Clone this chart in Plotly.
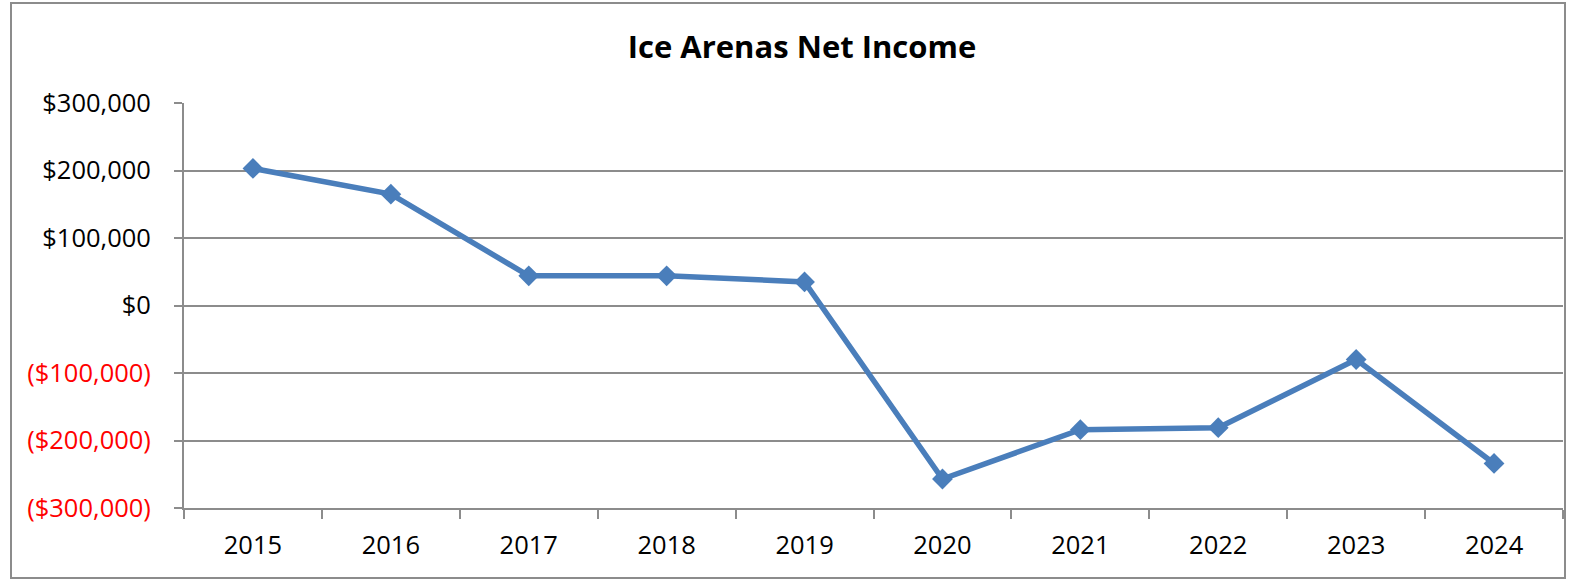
import plotly.graph_objects as go

years = ["2015", "2016", "2017", "2018", "2019", "2020", "2021", "2022", "2023", "2024"]
net_income = [203000, 165000, 44000, 44000, 35000, -257000, -184000, -181000, -80000, -234000]
tick_vals = [300000, 200000, 100000, 0, -100000, -200000, -300000]


def fmt(v):
    if v < 0:
        return "<span style='color:#ff0000'>(${:,.0f})</span>".format(-v)
    return "${:,.0f}".format(v)


tick_text = [fmt(v) for v in tick_vals]

W, H = 1570, 580
L, R, T, B = 184, 7, 103, 72
pw, ph = W - L - R, H - T - B


def px_x(x):
    return (x - L) / pw


def px_y(y):
    return (H - B - y) / ph


FONT = "Open Sans"
TICK_SIZE = 25.5

fig = go.Figure()
fig.add_trace(go.Scatter(
    x=years, y=net_income, mode="lines+markers",
    line=dict(color="#4a7ebb", width=5.5),
    marker=dict(symbol="diamond", size=16, color="#4a7ebb"),
    showlegend=False,
))

fig.update_layout(
    width=W, height=H,
    margin=dict(l=L, r=R, t=T, b=B, autoexpand=False),
    paper_bgcolor="white", plot_bgcolor="white",
    font=dict(family=FONT, size=TICK_SIZE, color="#000000"),
    title=dict(text="<b>Ice Arenas Net Income</b>", x=px_x(802), xref="paper", xanchor="center",
               y=1 - 47 / H, yanchor="middle", font=dict(family=FONT, size=31, color="#000000")),
    xaxis=dict(
        type="category", showgrid=False, showline=True, linecolor="#8c8c8c", linewidth=2,
        ticks="outside", ticklen=9, tickcolor="#8c8c8c", tickwidth=2,
        tickson="boundaries", ticklabelstandoff=13, automargin=False,
        range=[-0.5, 9.5],
        tickfont=dict(family=FONT, size=TICK_SIZE, color="#000000"),
    ),
    yaxis=dict(
        range=[-300000, 300000], tickvals=tick_vals, ticktext=tick_text,
        showgrid=True, gridcolor="#8c8c8c", gridwidth=2, zeroline=False,
        showline=True, linecolor="#8c8c8c", linewidth=2,
        ticks="outside", ticklen=8, tickcolor="#8c8c8c", tickwidth=2,
        ticklabelstandoff=18, automargin=False,
        tickfont=dict(family=FONT, size=TICK_SIZE, color="#000000"),
    ),
)

fig.add_shape(type="rect", xref="paper", yref="paper",
              x0=px_x(11), x1=px_x(1565), y0=px_y(578), y1=px_y(3),
              line=dict(color="#8c8c8c", width=2), fillcolor="rgba(0,0,0,0)", layer="below")

fig.write_html("out.html", config={"displayModeBar": False},
               post_script="document.body.style.margin='0';document.body.style.overflow='hidden';")
